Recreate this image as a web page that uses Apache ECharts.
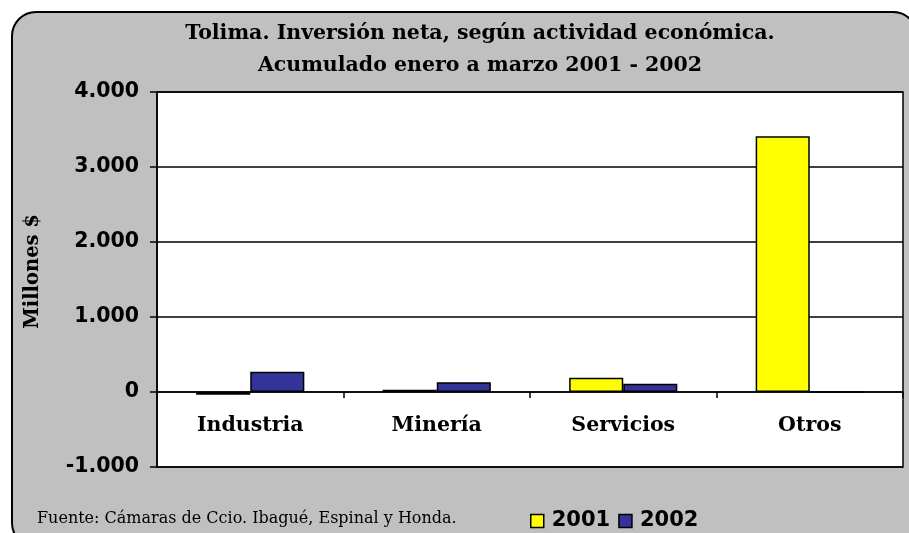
<!DOCTYPE html>
<html>
<head>
<meta charset="utf-8">
<script src="https://cdn.jsdelivr.net/npm/echarts@6/dist/echarts.min.js"></script>
<style>
  html, body { margin: 0; padding: 0; background: #ffffff; }
  #chart { width: 909px; height: 533px; }
</style>
</head>
<body>
<div id="chart"></div>
<script>
// values (millones de pesos)
const categories = ['Industria', 'Minería', 'Servicios', 'Otros'];
const values_2001 = [-35, 30, 190, 3410];
const values_2002 = [270, 130, 110, 0];
const y_ticks = [-1000, 0, 1000, 2000, 3000, 4000];

const serif_bold = 'DejaVu Serif';
const sans_bold = 'DejaVu Sans';

let my_chart = echarts.init(document.getElementById('chart'));

function fmt_thousands(v) {
    let s = Math.abs(v).toString().replace(/\B(?=(\d{3})+(?!\d))/g, '.');
    return (v < 0 ? '-' : '') + s;
}

let option = {
    animation: false,
    backgroundColor: '#ffffff',
    graphic: [{
        type: 'rect', z: -10,
        shape: {x: 12, y: 12, width: 905, height: 535, r: 24},
        style: {fill: '#c0c0c0', stroke: '#000000', lineWidth: 2}
    }, {
        type: 'text', left: 37, top: 511,
        style: {
            text: 'Fuente: Cámaras de Ccio. Ibagué, Espinal y Honda.',
            font: '16px "DejaVu Serif"', fill: '#000000'
        }
    }],
    title: {
        text: 'Tolima. Inversión neta, según actividad económica.\nAcumulado enero a marzo 2001 - 2002',
        left: 475, top: 13, textAlign: 'center',
        textStyle: {
            fontFamily: serif_bold, fontWeight: 'bold', fontSize: 20.5,
            lineHeight: 32, color: '#000000'
        }
    },
    legend: {
        data: ['2001', '2002'],
        left: 530, top: 510, padding: 0,
        icon: 'rect', itemWidth: 13, itemHeight: 13, itemGap: 8,
        textStyle: {
            fontFamily: sans_bold, fontWeight: 'bold', fontSize: 21, lineHeight: 22,
            color: '#000000', padding: [0, 0, 0, 3]
        },
        itemStyle: {borderColor: '#000000', borderWidth: 1.5}
    },
    grid: {
        left: 157, right: 6, top: 92, bottom: 66,
        show: true, backgroundColor: '#ffffff', borderColor: '#000000', borderWidth: 1.5
    },
    xAxis: {
        type: 'category', data: categories,
        offset: -75,
        axisLine: {onZero: false, lineStyle: {color: '#000000', width: 1.5}},
        axisTick: {show: true, length: 6, lineStyle: {color: '#000000', width: 1.5}},
        axisLabel: {margin: 23, fontFamily: serif_bold, fontWeight: 'bold', fontSize: 20.5, color: '#000000'}
    },
    yAxis: {
        type: 'value', min: y_ticks[0], max: y_ticks[y_ticks.length - 1], interval: 1000,
        name: 'Millones $', nameLocation: 'middle', nameGap: 114, nameRotate: 90,
        nameTextStyle: {fontFamily: serif_bold, fontWeight: 'bold', fontSize: 19.5, color: '#000000', padding: [0, 0, 0, 16]},
        axisLine: {show: true, lineStyle: {color: '#000000', width: 1.5}},
        axisTick: {show: true, length: 7, lineStyle: {color: '#000000', width: 1.5}},
        axisLabel: {
            margin: 18, fontFamily: sans_bold, fontWeight: 'bold', fontSize: 20.5, color: '#000000',
            formatter: fmt_thousands
        },
        splitLine: {show: true, lineStyle: {color: '#000000', width: 1.5}}
    },
    series: [{
        name: '2001', type: 'bar', data: values_2001,
        barGap: '0%', barCategoryGap: '42%',
        itemStyle: {color: '#ffff00', borderColor: '#000000', borderWidth: 1.5}
    }, {
        name: '2002', type: 'bar', data: values_2002,
        barGap: '0%', barCategoryGap: '42%',
        itemStyle: {color: '#333399', borderColor: '#000000', borderWidth: 1.5}
    }]
};

my_chart.setOption(option);
</script>
</body>
</html>
